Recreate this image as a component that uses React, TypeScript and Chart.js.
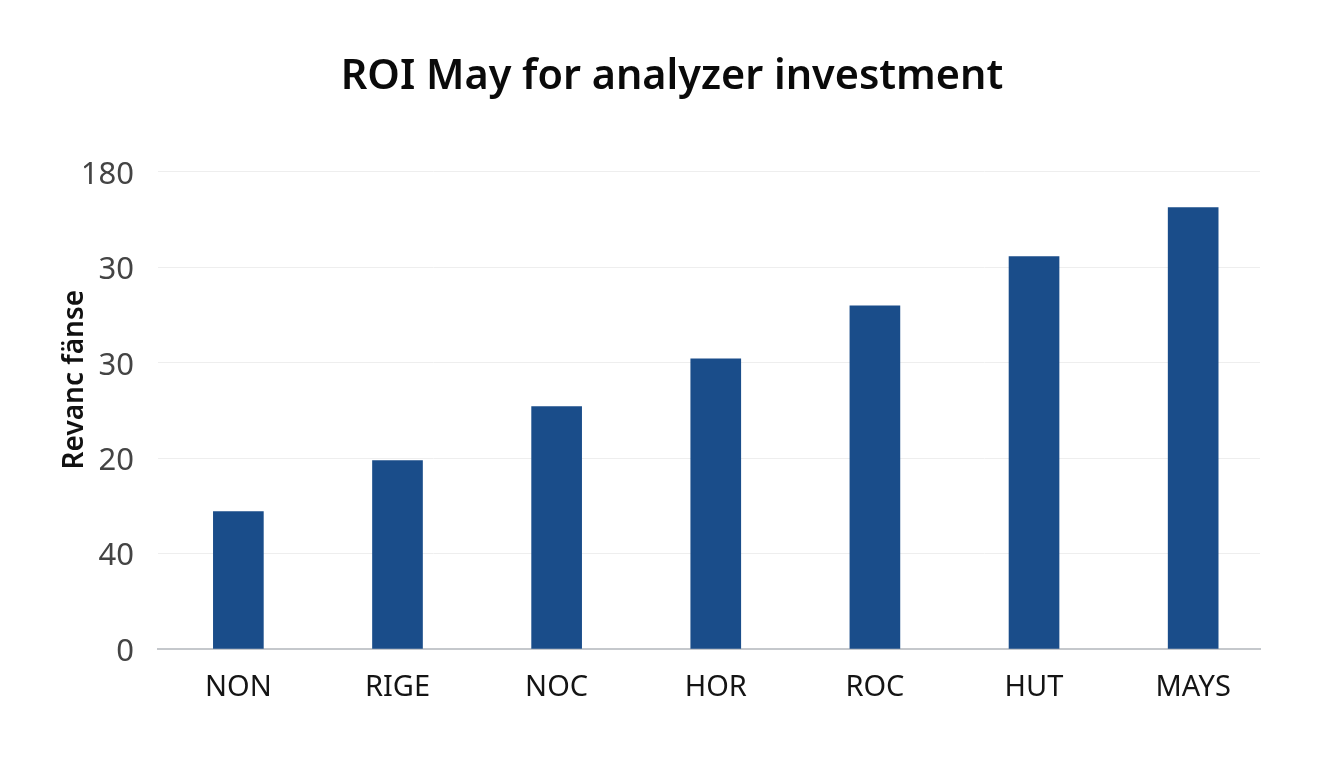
import { useRef, useEffect } from 'react';
import { Chart, registerables } from 'chart.js';

Chart.register(...registerables);

const categories = ['NON', 'RIGE', 'NOC', 'HOR', 'ROC', 'HUT', 'MAYS'];
const values = [28.8, 39.5, 50.8, 60.8, 71.9, 82.2, 92.5];
const yTickLabels = ['0', '40', '20', '30', '30', '180'];
const titleText = 'ROI May for analyzer investment';
const yAxisText = 'Revanc fänse';
const FONT = '"Noto Sans", sans-serif';

// the axis label sits above the middle of the plot, so the scale title can't place it
const yLabelPlugin = {
  id: 'yLabel',
  afterDraw(chart: Chart) {
    const { ctx, chartArea } = chart;
    ctx.save();
    ctx.translate(chartArea.left - 83, chartArea.top + 208);
    ctx.rotate(-Math.PI / 2);
    ctx.font = `600 28px ${FONT}`;
    ctx.fillStyle = '#111';
    ctx.textAlign = 'center';
    ctx.textBaseline = 'middle';
    ctx.fillText(yAxisText, 0, 0);
    ctx.restore();
  },
};

export default function App() {
  const canvasRef = useRef<HTMLCanvasElement>(null);

  useEffect(() => {
    if (!canvasRef.current) return;
    const chart = new Chart(canvasRef.current, {
      type: 'bar',
      data: {
        datasets: [{
          data: values.map((v, i) => ({ x: i, y: v })),
          backgroundColor: '#1a4d8a',
          barThickness: 50,
        }],
      },
      plugins: [yLabelPlugin],
      options: {
        responsive: false,
        animation: false,
        layout: { padding: { left: 84, right: 84, top: 0, bottom: 0 } },
        plugins: {
          legend: { display: false },
          tooltip: { enabled: false },
          title: {
            display: true,
            text: titleText,
            color: '#0a0a0a',
            font: { family: FONT, size: 41.4, weight: 600 },
            padding: { top: 52, bottom: 70 },
          },
        },
        scales: {
          x: {
            type: 'linear',
            offset: false,
            min: -0.505,
            max: 6.42,
            afterBuildTicks(scale: any) {
              scale.ticks = categories.map((_, i) => ({ value: i }));
            },
            afterFit(scale: any) { scale.height = 119; },
            grid: { display: false },
            border: { color: '#c5c8cc', width: 2 },
            ticks: {
              autoSkip: false,
              maxRotation: 0,
              padding: 13,
              color: '#141414',
              font: { family: FONT, size: 29 },
              callback: (v: any) => categories[v],
            },
          },
          y: {
            min: 0,
            max: 100,
            afterFit(scale: any) { scale.width = 74; },
            grid: { color: '#eeeeee', drawTicks: false },
            border: { display: false },
            ticks: {
              stepSize: 20,
              padding: 24,
              color: '#444444',
              // blank first line plus a small line height nudges the labels 3px down
              font: { family: FONT, size: 31, lineHeight: 0.2 },
              callback: (v: any) => ['', yTickLabels[v / 20]],
            },
          },
        },
      },
    } as any);
    return () => { chart.destroy(); };
  }, []);

  return (
    <div style={{ position: 'fixed', left: 0, top: 0, width: 1344, height: 768, background: '#fff' }}>
      <canvas ref={canvasRef} width={1344} height={768} style={{ display: 'block' }} />
    </div>
  );
}
